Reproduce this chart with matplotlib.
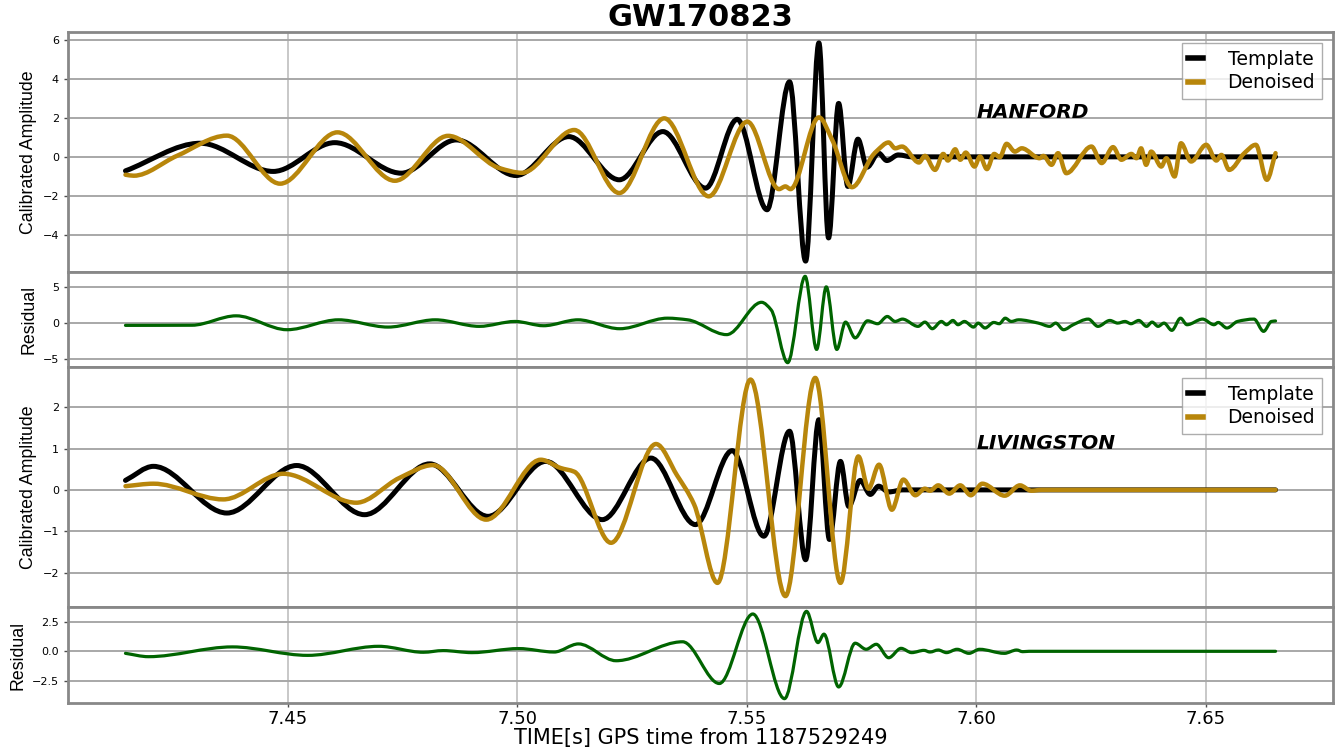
import numpy as np
import matplotlib
matplotlib.use('Agg')
import matplotlib.pyplot as plt
from matplotlib import gridspec
from matplotlib.path import Path
from matplotlib.patches import PathPatch
from matplotlib.lines import Line2D

#%% values (time in s after 1187529249, amplitude)
# HANFORD template
h_tmpl_t = [7.4146, 7.4309, 7.4468, 7.4602, 7.4747, 7.4867, 7.4997, 7.5112, 7.5222, 7.5317,
            7.5410, 7.5479, 7.5544, 7.5593, 7.5628, 7.5657, 7.5678, 7.5700, 7.5720, 7.5742,
            7.5762, 7.5787, 7.5805, 7.5830, 7.5860, 7.6652]
h_tmpl_v = [-0.72, 0.70, -0.75, 0.73, -0.84, 0.87, -0.96, 1.04, -1.18, 1.30,
            -1.61, 1.93, -2.72, 3.86, -5.36, 5.86, -4.17, 2.75, -1.52, 0.91,
            -0.53, 0.19, -0.19, 0.10, 0.0, 0.0]

# HANFORD denoised
h_den_t = [7.4146, 7.4164, 7.4258, 7.4367, 7.4483, 7.4608, 7.4733, 7.4849, 7.4961, 7.5010,
           7.5124, 7.5222, 7.5320, 7.5417, 7.5501, 7.5570, 7.5584, 7.5595, 7.5657, 7.5686,
           7.5729, 7.5775, 7.5783, 7.5809, 7.5823, 7.5838, 7.5875, 7.5888, 7.5910, 7.5928,
           7.5938, 7.5954, 7.5965, 7.5977, 7.5996, 7.6008, 7.6023, 7.6039, 7.6051, 7.6066,
           7.6084, 7.6099, 7.6138, 7.6146, 7.6164, 7.6178, 7.6196, 7.6251, 7.6273, 7.6298,
           7.6316, 7.6338, 7.6349, 7.6359, 7.6370, 7.6381, 7.6403, 7.6414, 7.6432, 7.6446,
           7.6468, 7.6501, 7.6523, 7.6534, 7.6551, 7.6584, 7.6609, 7.6633, 7.6652]
h_den_v = [-0.92, -0.97, 0.05, 1.09, -1.38, 1.26, -1.23, 1.08, -0.58, -0.82,
           1.38, -1.86, 1.98, -2.03, 1.81, -1.66, -1.52, -1.66, 2.03, 0.87,
           -1.56, 0.10, 0.30, 0.74, 0.44, 0.53, -0.29, 0.05, -0.67, 0.15,
           -0.19, 0.39, -0.15, 0.22, -0.50, 0.02, -0.63, 0.15, -0.02, 0.67,
           0.27, 0.44, -0.07, 0.05, -0.41, 0.19, -0.84, 0.53, -0.32, 0.50,
           -0.15, 0.15, -0.07, 0.44, -0.41, 0.27, -0.50, -0.07, -1.01, 0.70,
           -0.24, 0.62, -0.19, 0.10, -0.67, 0.19, 0.62, -1.18, 0.19]

# HANFORD residual
h_res_t = [7.4146, 7.4291, 7.4387, 7.4498, 7.4610, 7.4718, 7.4821, 7.4917, 7.4995, 7.5057,
           7.5132, 7.5223, 7.5327, 7.5371, 7.5456, 7.5532, 7.5553, 7.5589, 7.5627, 7.5652,
           7.5673, 7.5696, 7.5715, 7.5736, 7.5763, 7.5785, 7.5806, 7.5823, 7.5839, 7.5873,
           7.5888, 7.5904, 7.5924, 7.5935, 7.5949, 7.5960, 7.5974, 7.5994, 7.6004, 7.6019,
           7.6038, 7.6050, 7.6063, 7.6076, 7.6092, 7.6135, 7.6160, 7.6173, 7.6190, 7.6211,
           7.6244, 7.6265, 7.6291, 7.6308, 7.6324, 7.6337, 7.6354, 7.6371, 7.6383, 7.6396,
           7.6409, 7.6426, 7.6445, 7.6459, 7.6493, 7.6518, 7.6527, 7.6546, 7.6569, 7.6605,
           7.6626, 7.6643, 7.6652]
h_res_v = [-0.32, -0.30, 1.02, -0.93, 0.46, -0.56, 0.46, -0.46, 0.23, -0.37,
           0.46, -0.79, 0.69, 0.46, -1.62, 2.92, 1.85, -5.56, 6.57, -3.70,
           5.09, -3.70, 0.14, -2.08, 0.32, -0.09, 0.93, 0.23, 0.56, -0.46,
           0.14, -0.79, 0.23, -0.23, 0.37, -0.23, 0.23, -0.56, 0.0, -0.69,
           0.09, -0.09, 0.69, 0.23, 0.46, 0.0, -0.46, 0.0, -0.93, -0.23,
           0.56, -0.46, 0.37, 0.0, 0.23, -0.09, 0.37, -0.46, 0.14, -0.46,
           0.0, -1.02, 0.69, -0.23, 0.56, -0.23, 0.09, -0.69, 0.23, 0.56,
           -1.16, 0.23, 0.30]

# LIVINGSTON template
l_tmpl_t = [7.4146, 7.4207, 7.4367, 7.4519, 7.4667, 7.4809, 7.4936, 7.5062, 7.5185, 7.5291,
            7.5388, 7.5468, 7.5537, 7.5593, 7.5628, 7.5657, 7.5680, 7.5704, 7.5722, 7.5747,
            7.5769, 7.5787, 7.5809, 7.5840, 7.6652]
l_tmpl_v = [0.23, 0.57, -0.56, 0.59, -0.60, 0.63, -0.64, 0.69, -0.72, 0.77,
            -0.84, 0.95, -1.12, 1.42, -1.69, 1.70, -1.20, 0.69, -0.40, 0.23,
            -0.11, 0.09, -0.05, 0.0, 0.0]

# LIVINGSTON denoised
l_den_t = [7.4146, 7.4207, 7.4359, 7.4490, 7.4649, 7.4743, 7.4816, 7.4932, 7.5051, 7.5094,
           7.5124, 7.5204, 7.5302, 7.5348, 7.5385, 7.5436, 7.5508, 7.5584, 7.5649, 7.5704,
           7.5743, 7.5765, 7.5788, 7.5816, 7.5841, 7.5867, 7.5888, 7.5899, 7.5917, 7.5941,
           7.5965, 7.5988, 7.6013, 7.6062, 7.6095, 7.6120, 7.6142, 7.6652]
l_den_v = [0.09, 0.15, -0.23, 0.39, -0.31, 0.29, 0.60, -0.72, 0.73, 0.53,
           0.44, -1.28, 1.11, 0.35, -0.35, -2.25, 2.67, -2.57, 2.71, -2.25,
           0.81, 0.03, 0.61, -0.48, 0.25, -0.13, 0.03, -0.02, 0.11, -0.09,
           0.11, -0.13, 0.15, -0.14, 0.11, -0.02, 0.0, 0.0]

# LIVINGSTON residual
l_res_t = [7.4146, 7.4196, 7.4379, 7.4543, 7.4698, 7.4795, 7.4838, 7.4901, 7.5003, 7.5080,
           7.5133, 7.5215, 7.5360, 7.5440, 7.5513, 7.5582, 7.5630, 7.5655, 7.5668, 7.5700,
           7.5736, 7.5760, 7.5782, 7.5809, 7.5836, 7.5859, 7.5886, 7.5899, 7.5917, 7.5935,
           7.5958, 7.5984, 7.6007, 7.6061, 7.6088, 7.6101, 7.6115, 7.6652]
l_res_v = [-0.17, -0.45, 0.37, -0.34, 0.42, -0.08, 0.06, -0.11, 0.23, -0.06,
           0.62, -0.79, 0.80, -2.70, 3.13, -3.97, 3.35, 0.73, 1.44, -2.99,
           0.68, 0.17, 0.59, -0.54, 0.25, -0.11, 0.08, -0.06, 0.11, -0.11,
           0.17, -0.17, 0.17, -0.17, 0.11, -0.03, 0.0, 0.0]

gps_start = 1187529249
c_tmpl = 'black'
c_den = '#B8860B'
c_res = '#006400'


def smooth_path(t, v):
    # monotone cubic (pchip) tangents -> bezier segments through the read points
    t = np.asarray(t, float)
    v = np.asarray(v, float)
    h = np.diff(t)
    d = np.diff(v) / h
    m = np.zeros_like(v)
    m[0] = d[0]
    m[-1] = d[-1]
    for k in range(1, len(v) - 1):
        if d[k-1] * d[k] > 0:
            w1 = 2*h[k] + h[k-1]
            w2 = h[k] + 2*h[k-1]
            m[k] = (w1 + w2) / (w1/d[k-1] + w2/d[k])
    verts = [(t[0], v[0])]
    codes = [Path.MOVETO]
    for k in range(len(h)):
        verts += [(t[k] + h[k]/3, v[k] + m[k]*h[k]/3),
                  (t[k+1] - h[k]/3, v[k+1] - m[k+1]*h[k]/3),
                  (t[k+1], v[k+1])]
        codes += [Path.CURVE4]*3
    return Path(verts, codes)


def draw(ax, t, v, color, lw):
    ax.add_patch(PathPatch(smooth_path(t, v), fill=False, edgecolor=color, lw=lw,
                           capstyle='round', joinstyle='round', zorder=2))
    ax.update_datalim(np.column_stack([t, v]))


def style(ax, yticks):
    ax.set_yticks(yticks)
    ax.grid(axis='y', color='#a8a8a8', lw=1.4)
    ax.grid(axis='x', color='#c4c4c4', lw=1.3)
    for sp in ax.spines.values():
        sp.set_color('#888888')
        sp.set_linewidth(2)
    ax.tick_params(axis='y', labelsize=8, length=3, width=1, color='0.3')
    ax.tick_params(axis='x', labelsize=13, length=3, width=1, color='0.3', pad=2)


fig = plt.figure(figsize=(13.38, 7.49), dpi=100, facecolor='w')
gs = gridspec.GridSpec(4, 1, height_ratios=[240, 95, 240, 96], hspace=0,
                       left=0.0508, right=0.9963, bottom=0.0614, top=0.9573)
ax0 = fig.add_subplot(gs[0])
ax1 = fig.add_subplot(gs[1], sharex=ax0)
ax2 = fig.add_subplot(gs[2], sharex=ax0)
ax3 = fig.add_subplot(gs[3], sharex=ax0)

draw(ax0, h_tmpl_t, h_tmpl_v, c_tmpl, 3.6)
draw(ax0, h_den_t, h_den_v, c_den, 3.2)
draw(ax1, h_res_t, h_res_v, c_res, 2.3)
draw(ax2, l_tmpl_t, l_tmpl_v, c_tmpl, 3.6)
draw(ax2, l_den_t, l_den_v, c_den, 3.2)
draw(ax3, l_res_t, l_res_v, c_res, 2.3)

for ax in (ax0, ax1, ax2, ax3):
    ax.autoscale_view()

style(ax0, [-4, -2, 0, 2, 4, 6])
style(ax1, [-5, 0, 5])
style(ax2, [-2, -1, 0, 1, 2])
style(ax3, [-2.5, 0.0, 2.5])
for ax in (ax0, ax1, ax2):
    ax.tick_params(axis='x', labelbottom=False)

handles = [Line2D([], [], color=c_tmpl, lw=4), Line2D([], [], color=c_den, lw=4)]
for ax in (ax0, ax2):
    leg = ax.legend(handles, ['Template', 'Denoised'], loc='upper right', fontsize=13.5,
                    handlelength=0.8, handletextpad=1.3, fancybox=False, edgecolor='#999999',
                    borderpad=0.35, labelspacing=0.25, borderaxespad=0.6)
    leg.get_frame().set_linewidth(1)

ax0.text(7.6, 2.0, 'HANFORD', fontsize=14.5, fontweight='bold', fontstyle='italic',
         ha='left', va='baseline')
ax2.text(7.6, 1.0, 'LIVINGSTON', fontsize=14.5, fontweight='bold', fontstyle='italic',
         ha='left', va='baseline')

ylab = dict(fontsize=12.8, family=['Liberation Sans', 'DejaVu Sans'])
ax0.set_ylabel('Calibrated Amplitude', **ylab)
ax1.set_ylabel('Residual', **ylab)
ax2.set_ylabel('Calibrated Amplitude', **ylab)
ax3.set_ylabel('Residual', **ylab)
ax3.set_xlabel('TIME[s] GPS time from ' + str(gps_start), fontsize=15, labelpad=0)
ax0.set_title('GW170823', fontsize=22, fontweight='bold', pad=3)

plt.savefig('out.png', dpi=100)
plt.close()
